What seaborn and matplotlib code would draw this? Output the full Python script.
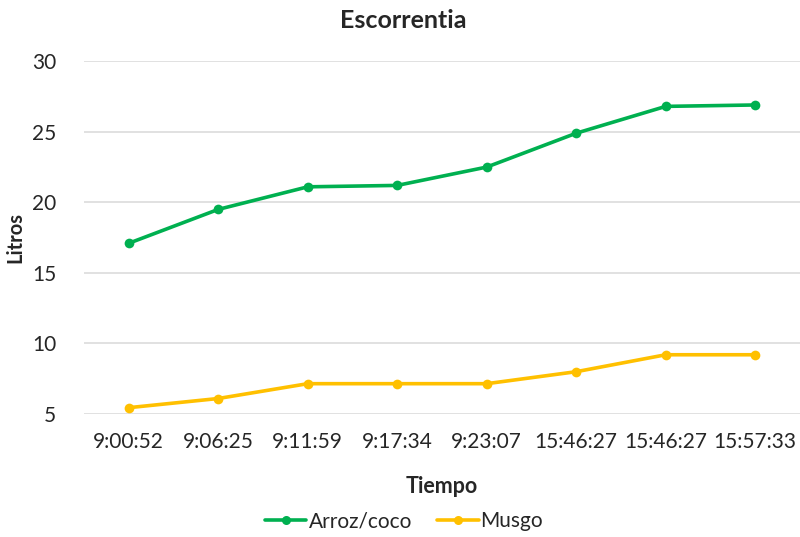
import matplotlib
matplotlib.use('Agg')
import matplotlib.pyplot as plt
import seaborn as sns
import pandas as pd
from matplotlib.lines import Line2D

# data
tiempos = ['9:00:52', '9:06:25', '9:11:59', '9:17:34', '9:23:07', '15:46:27', '15:46:27', '15:57:33']
arroz_coco = [17.1, 19.5, 21.1, 21.2, 22.5, 24.9, 26.8, 26.9]
musgo = [5.45, 6.1, 7.15, 7.15, 7.15, 8.0, 9.2, 9.2]

series_names = ['Arroz/coco', 'Musgo']
colores = {'Arroz/coco': '#00B050', 'Musgo': '#FFC000'}

# long-form table, positions keep duplicate time labels apart
df = pd.DataFrame({
    'pos': list(range(len(tiempos))) * 2,
    'Litros': arroz_coco + musgo,
    'serie': [series_names[0]] * len(tiempos) + [series_names[1]] * len(tiempos),
})

sns.set_style('white')
plt.rcParams['font.family'] = ['Lato', 'DejaVu Sans']

fig = plt.figure(figsize=(8, 5.37), dpi=100)
ax = fig.add_axes([0.105, 0.229, 0.895, 0.657])

sns.lineplot(data=df, x='pos', y='Litros', hue='serie', palette=colores,
             marker='o', markersize=7, markeredgewidth=0, linewidth=2.6,
             sort=False, ax=ax, legend=False)

ax.set_ylim(5, 30)
ax.set_yticks([5, 10, 15, 20, 25, 30])
ax.set_xlim(-0.5, len(tiempos) - 0.5)
ax.set_xticks(range(len(tiempos)))
ax.set_xticklabels(tiempos)
ax.tick_params(axis='both', length=0, labelsize=15, colors='#262626')
ax.tick_params(axis='x', pad=13)
ax.tick_params(axis='y', pad=20)

ax.grid(axis='y', color='#d9d9d9', linewidth=1.1)
ax.grid(axis='x', visible=False)
ax.set_axisbelow(True)
for s in ax.spines.values():
    s.set_visible(False)

fig.text(0.504, 0.962, 'Escorrentia', fontsize=18, fontweight='bold', ha='center', va='center')
ax.set_xlabel('Tiempo', fontsize=15.5, fontweight='bold', labelpad=17)
ax.set_ylabel('Litros', fontsize=14.5, fontweight='bold')
ax.yaxis.set_label_coords(-0.082, 0.5)

handles = [Line2D([0], [0], color=colores[n], marker='o', markersize=6.5, linewidth=2.6,
                  markeredgewidth=0, label=n) for n in series_names]
fig.legend(handles=handles, loc='lower center', bbox_to_anchor=(0.505, -0.024), ncol=2,
           frameon=False, fontsize=15, handlelength=2.0, handletextpad=0.1, columnspacing=1.2)

fig.savefig('out.png', dpi=100)
